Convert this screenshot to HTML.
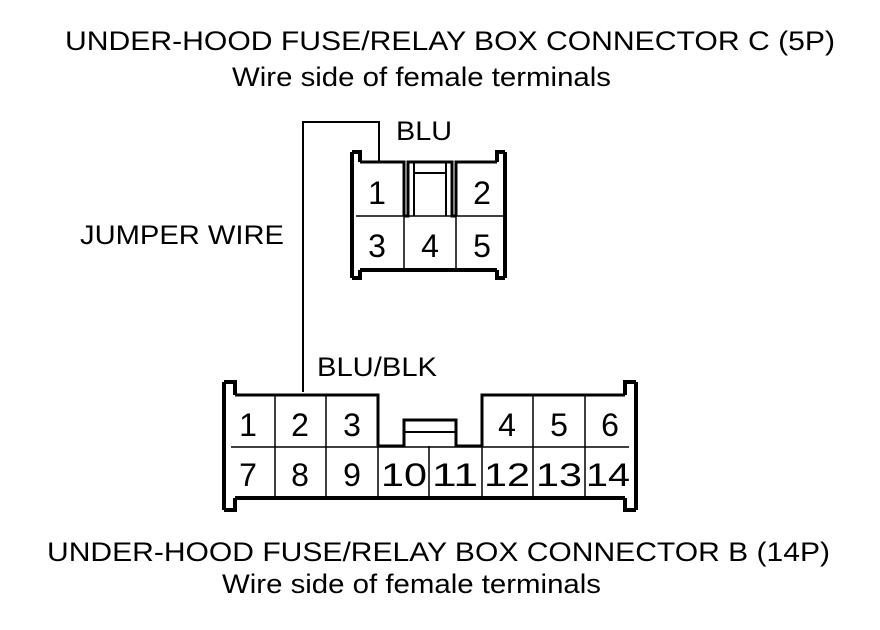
<!DOCTYPE html>
<html><head><style>
body{margin:0;background:#fff}
svg{display:block}
text{font-family:"Liberation Sans",Arial,sans-serif;fill:#000}
</style></head><body>
<svg width="880" height="630" viewBox="0 0 880 630" xmlns="http://www.w3.org/2000/svg">
<g font-size="27">
<text x="65" y="50" textLength="770" lengthAdjust="spacingAndGlyphs">UNDER-HOOD FUSE/RELAY BOX CONNECTOR C (5P)</text>
<text x="232" y="86" textLength="379" lengthAdjust="spacingAndGlyphs">Wire side of female terminals</text>
<text x="396" y="140" textLength="56" lengthAdjust="spacingAndGlyphs">BLU</text>
<text x="80" y="244" textLength="204" lengthAdjust="spacingAndGlyphs">JUMPER WIRE</text>
<text x="317" y="376" textLength="120" lengthAdjust="spacingAndGlyphs">BLU/BLK</text>
<text x="47" y="561" textLength="783" lengthAdjust="spacingAndGlyphs">UNDER-HOOD FUSE/RELAY BOX CONNECTOR B (14P)</text>
<text x="222" y="593" textLength="379" lengthAdjust="spacingAndGlyphs">Wire side of female terminals</text>
</g>
<polyline points="303,392 303,122 379,122 379,162" fill="none" stroke="#000" stroke-width="2"/>
<g fill="none" stroke="#000">
<path d="M352,152 V278 M352,152 H360 V162 M505,152 V278 M505,152 H497 V162 M352,278 H360 V270 M505,278 H497 V270 M360,270 H497" stroke-width="4"/>
<path d="M360,162 H404 V216 M456,216 V162 H497" stroke-width="3"/>
<path d="M404,216 H408 V162 H452 V216 H456" stroke-width="3"/>
<path d="M414,163 V216 M446,163 V216 M414,173 H446" stroke-width="2"/>
<path d="M356,216 H503 M404,216 V270 M456,216 V270" stroke-width="1.5"/>
</g>
<g font-size="32" text-anchor="middle">
<text x="377" y="204">1</text><text x="482" y="204">2</text>
<text x="377" y="257">3</text><text x="430" y="257">4</text><text x="482" y="257">5</text>
</g>
<g fill="none" stroke="#000">
<path d="M224,382 V510 M224,382 H235 V395 M636,382 V510 M636,382 H625 V395 M224,510 H235 V498 M636,510 H625 V498 M235,498 H625" stroke-width="4"/>
<path d="M235,395 H378 V446 H404 V420 H456 V446 H482 V395 H625" stroke-width="3"/>
<path d="M404,432 H456" stroke-width="2"/>
<path d="M231,447 H629 M275,395 V498 M326,395 V498 M378,446 V498 M429,446 V498 M482,446 V498 M533,395 V498 M585,395 V498" stroke-width="1.5"/>
</g>
<g font-size="32" text-anchor="middle">
<text x="248" y="436">1</text><text x="300" y="436">2</text><text x="352" y="436">3</text>
<text x="507" y="436">4</text><text x="559" y="436">5</text><text x="610" y="436">6</text>
<text x="248" y="486">7</text><text x="300" y="486">8</text><text x="352" y="486">9</text>
<text x="404" y="486" textLength="46" lengthAdjust="spacingAndGlyphs">10</text><text x="455" y="486" textLength="46" lengthAdjust="spacingAndGlyphs">11</text><text x="507" y="486" textLength="46" lengthAdjust="spacingAndGlyphs">12</text>
<text x="559" y="486" textLength="46" lengthAdjust="spacingAndGlyphs">13</text><text x="608" y="486" textLength="44" lengthAdjust="spacingAndGlyphs">14</text>
</g>
</svg>
</body></html>
